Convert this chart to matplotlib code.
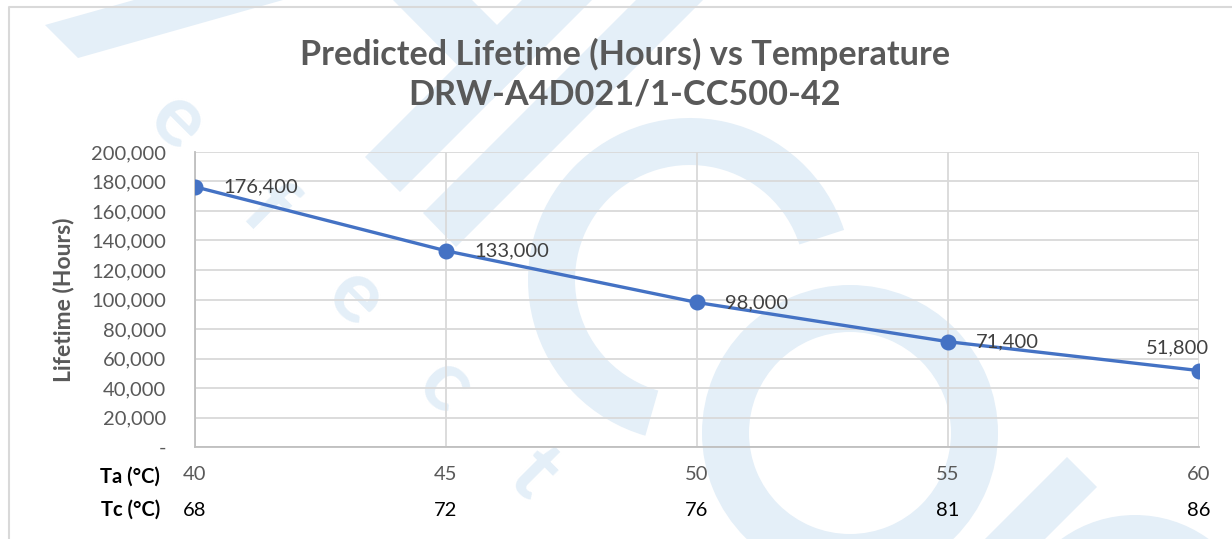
import matplotlib
matplotlib.use('Agg')
import matplotlib.pyplot as plt
from matplotlib.patches import Polygon, Wedge
from matplotlib.ticker import FuncFormatter
import matplotlib.transforms as mtransforms

# data
ta = [40, 45, 50, 55, 60]
tc = [68, 72, 76, 81, 86]
lifetime = [176400, 133000, 98000, 71400, 51800]
yticks = [0, 20000, 40000, 60000, 80000, 100000, 120000, 140000, 160000, 180000, 200000]

title = "Predicted Lifetime (Hours) vs Temperature\nDRW-A4D021/1-CC500-42"

W, H = 1232, 539
plt.rcParams['font.family'] = ['Lato', 'DejaVu Sans']

fig = plt.figure(figsize=(W / 100, H / 100), dpi=100)
fig.patch.set_facecolor('white')

# background watermark, drawn in pixel coordinates
bg = fig.add_axes([0, 0, 1, 1], zorder=0)
bg.set_xlim(0, W)
bg.set_ylim(H, 0)
bg.axis('off')
wm = '#E4EFF8'
shapes = [
    [(45, 25), (78, 58), (283, 0), (134, 0)],
    [(393, 0), (472, 0), (532, 60), (492, 100)],
    [(522, 0), (592, 0), (400, 192), (365, 157)],
    [(636, 0), (703, 0), (456, 247), (423, 213)],
    [(1067, 457), (1097, 487), (1000, 584), (970, 554)],
]
for pts in shapes:
    bg.add_patch(Polygon(pts, closed=True, facecolor=wm, edgecolor='none'))
bg.add_patch(Wedge((690, 280), 162, -254, -18, width=47, facecolor=wm, edgecolor='none'))
bg.add_patch(Wedge((850, 433), 148, 0, 360, width=47, facecolor=wm, edgecolor='none'))
bg.add_patch(Wedge((1135, 640), 125, 200, 340, width=45, facecolor=wm, edgecolor='none'))
for i, ch in enumerate("efect"):
    bg.text(177 + i * 89, 122 + i * 88, ch, fontsize=62, color=wm, rotation=-45,
            ha='center', va='center', rotation_mode='anchor', fontweight='bold')

# chart border
bg.plot([9, 9, W + 5], [H + 5, 7, 7], color='#D9D9D9', lw=1.5)

# main plot
ax = fig.add_axes([195 / W, 1 - 447 / H, 1004 / W, 295 / H], zorder=1)
ax.patch.set_alpha(0)
ax.plot(ta, lifetime, color='#4472C4', lw=2.4, marker='o', markersize=10.5, zorder=3)

ax.set_xlim(40, 60)
ax.set_ylim(0, 200000)
ax.set_xticks(ta)
ax.set_yticks(yticks)
ax.yaxis.set_major_formatter(FuncFormatter(lambda v, p: '-' if v == 0 else f'{int(v):,}'))
ax.grid(True, color='#D9D9D9', lw=1.3)
ax.set_axisbelow(True)
for s in ['top', 'right']:
    ax.spines[s].set_visible(False)
for s in ['left', 'bottom']:
    ax.spines[s].set_color('#BFBFBF')
    ax.spines[s].set_linewidth(1.3)
ax.tick_params(axis='both', length=0, labelsize=14.5, labelcolor='#595959')
ax.tick_params(axis='y', pad=21)
ax.tick_params(axis='x', pad=14)

ax.set_ylabel('Lifetime (Hours)', fontsize=16.5, fontweight='bold', color='#595959', labelpad=12)

# data labels
for i, (x, y) in enumerate(zip(ta, lifetime)):
    if i == len(ta) - 1:
        ax.annotate(f'{y:,}', (x, y), xytext=(-22, 14), textcoords='offset pixels',
                    ha='center', va='bottom', fontsize=14.5, color='#404040')
    else:
        ax.annotate(f'{y:,}', (x, y), xytext=(28, 0), textcoords='offset pixels',
                    ha='left', va='center', fontsize=14.5, color='#404040')

# second row of x labels (case temperature)
trans = mtransforms.blended_transform_factory(ax.transData, ax.transAxes)
for x, t in zip(ta, tc):
    ax.text(x, -63 / 295, str(t), transform=trans, ha='center', va='center',
            fontsize=14.5, color='black')
ax.text(160, 477, 'Ta (°C)', transform=bg.transData, ha='right', va='center',
        fontsize=14.5, fontweight='bold', color='black')
ax.text(160, 510, 'Tc (°C)', transform=bg.transData, ha='right', va='center',
        fontsize=14.5, fontweight='bold', color='black')

fig.text(625 / W, 1 - 74 / H, title, ha='center', va='center', fontsize=24.7,
         fontweight='bold', color='#595959', linespacing=1.3)

fig.savefig('out.png', dpi=100)
